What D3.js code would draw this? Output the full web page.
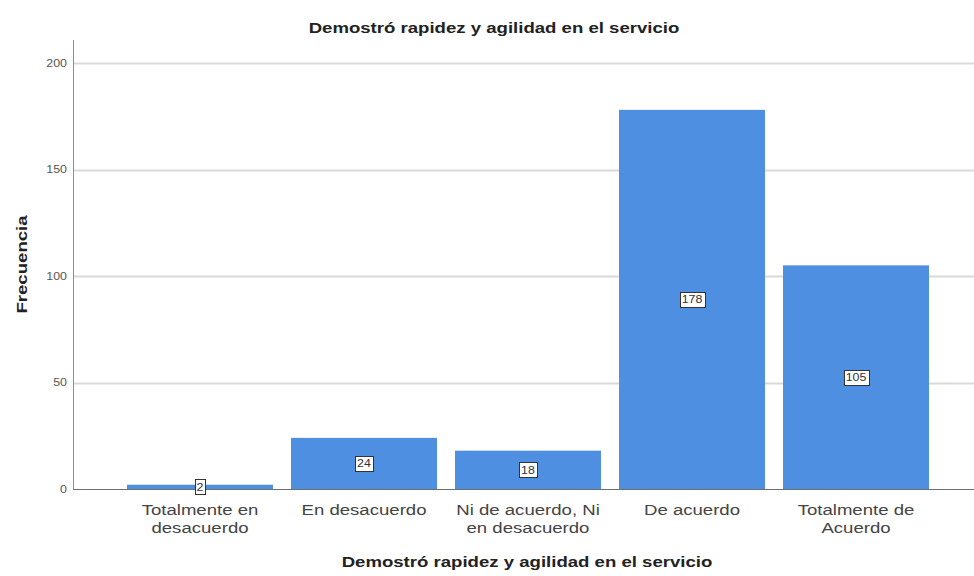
<!DOCTYPE html>
<html>
<head>
<meta charset="utf-8">
<script src="https://cdn.jsdelivr.net/npm/d3@7/dist/d3.min.js"></script>
<style>
  html, body { margin: 0; padding: 0; background: #ffffff; }
  svg { display: block; }
  text { font-family: Arial, "Liberation Sans", sans-serif; }
</style>
</head>
<body>
<svg id="chart" width="974" height="576"></svg>
<script>
// Response categories (two-line labels on the category axis)
const categories = [
  "Totalmente en desacuerdo",
  "En desacuerdo",
  "Ni de acuerdo, Ni en desacuerdo",
  "De acuerdo",
  "Totalmente de Acuerdo"
];
const categoryLines = [
  ["Totalmente en", "desacuerdo"],
  ["En desacuerdo"],
  ["Ni de acuerdo, Ni", "en desacuerdo"],
  ["De acuerdo"],
  ["Totalmente de", "Acuerdo"]
];
// Frequencies per category
const frequencies = [2, 24, 18, 178, 105];
// Value axis ticks
const yTicks = [0, 50, 100, 150, 200];

const titleText = "Demostró rapidez y agilidad en el servicio";
const xTitleText = "Demostró rapidez y agilidad en el servicio";
const yTitleText = "Frecuencia";

// Wide-set lettering: every text is drawn with a horizontal stretch
const SX = 1.24;

const svg = d3.select("#chart");
const plotLeft = 73, plotRight = 974, plotTop = 40, plotBottom = 489;

const x = d3.scaleBand()
  .domain(categories)
  .range([118, 938])
  .paddingInner(0.11)
  .paddingOuter(0.055);

const y = d3.scaleLinear()
  .domain([0, 200])
  .range([plotBottom, 63]);

function wideText(parent, px, py, str, size, opts = {}) {
  return parent.append("text")
    .attr("transform", `translate(${px},${py})${opts.rotate ? ` rotate(${opts.rotate})` : ""} scale(${opts.sx || SX},1)`)
    .attr("text-anchor", opts.anchor || "middle")
    .attr("font-size", size)
    .attr("font-weight", opts.weight || "normal")
    .attr("fill", opts.fill || "#333333")
    .text(str);
}

// Horizontal gridlines
svg.append("g")
  .selectAll("line")
  .data(yTicks.filter(d => d > 0))
  .join("line")
  .attr("x1", plotLeft).attr("x2", plotRight)
  .attr("y1", d => Math.round(y(d)) + 0.5)
  .attr("y2", d => Math.round(y(d)) + 0.5)
  .attr("stroke", "#d9d9d9")
  .attr("stroke-width", 2);

// Bars
svg.append("g")
  .selectAll("rect")
  .data(frequencies)
  .join("rect")
  .attr("x", (d, i) => x(categories[i]))
  .attr("width", x.bandwidth())
  .attr("y", d => y(d))
  .attr("height", d => y(0) - y(d))
  .attr("fill", "#4f8fe1");

// Axis lines
svg.append("line")
  .attr("x1", plotLeft + 0.5).attr("x2", plotLeft + 0.5)
  .attr("y1", plotTop).attr("y2", plotBottom)
  .attr("stroke", "#8c8c8c").attr("stroke-width", 1);
svg.append("line")
  .attr("x1", plotLeft).attr("x2", plotRight)
  .attr("y1", plotBottom + 0.5).attr("y2", plotBottom + 0.5)
  .attr("stroke", "#6e6e6e").attr("stroke-width", 1);

// Y tick labels
const yAxis = d3.axisLeft(y).tickValues(yTicks).tickSize(0).tickPadding(6);
const gy = svg.append("g").attr("transform", `translate(${plotLeft},0)`).call(yAxis);
gy.select(".domain").remove();
gy.selectAll(".tick text")
  .attr("font-size", 10)
  .attr("fill", "#555555")
  .attr("font-family", "Arial, 'Liberation Sans', sans-serif")
  .attr("x", null)
  .attr("transform", `translate(-6,0) scale(${SX},1)`);

// Category labels
const gx = svg.append("g");
categoryLines.forEach((lines, i) => {
  const cx = x(categories[i]) + x.bandwidth() / 2;
  const t = wideText(gx, cx, 515, null, 15, { fill: "#444444" });
  lines.forEach((ln, j) => {
    t.append("tspan").attr("x", 0).attr("dy", j === 0 ? 0 : 18).text(ln);
  });
});

// Value labels inside the bars
const labels = svg.append("g");
frequencies.forEach((v, i) => {
  const cx = x(categories[i]) + x.bandwidth() / 2;
  const cy = (y(v) + y(0)) / 2;
  const txt = String(v);
  const w = Math.round(6 * txt.length * SX) + 3;
  labels.append("rect")
    .attr("x", Math.round(cx - w / 2) + 0.5)
    .attr("y", Math.round(cy - 7.5) + 0.5)
    .attr("width", w)
    .attr("height", 15)
    .attr("fill", "#ffffff")
    .attr("stroke", "#333333")
    .attr("stroke-width", 1);
  wideText(labels, cx, cy + 4, txt, 10, { fill: "#333333" });
});

// Titles
wideText(svg, 494, 33, titleText, 15, { weight: "bold", fill: "#222222" });
wideText(svg, 527, 567, xTitleText, 15, { weight: "bold", fill: "#222222" });
wideText(svg, 27, (plotTop + plotBottom) / 2, yTitleText, 15,
  { weight: "bold", fill: "#222222", rotate: -90 });
</script>
</body>
</html>
